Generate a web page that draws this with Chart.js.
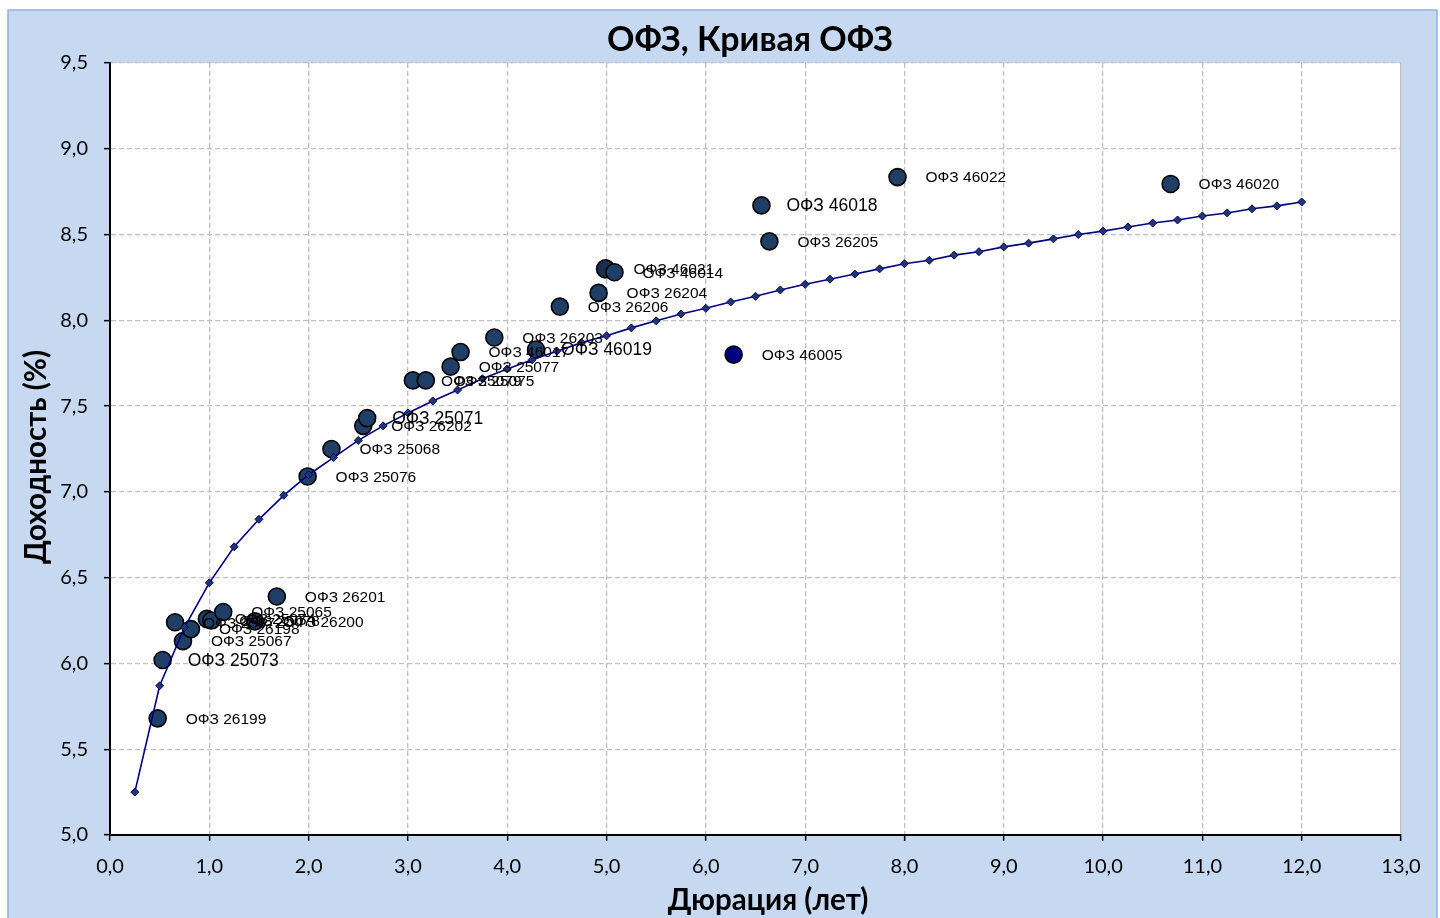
<!DOCTYPE html>
<html>
<head>
<meta charset="utf-8">
<script src="https://cdn.jsdelivr.net/npm/chart.js@4/dist/chart.umd.min.js"></script>
<style>
  body { margin: 0; background: #fff; overflow: hidden; }
  #ofzChart { position: absolute; left: 0; top: 0; width: 1440px; height: 918px; }
</style>
</head>
<body>
<canvas id="ofzChart" width="1440" height="918"></canvas>
<script>
// облигации: дюрация (лет), доходность (%)
var bondNames = ["ОФЗ 26199", "ОФЗ 25073", "ОФЗ 25072", "ОФЗ 25067", "ОФЗ 26198", "ОФЗ 25074",
    "ОФЗ 25078", "ОФЗ 25065", "ОФЗ 26200", "ОФЗ 26201", "ОФЗ 25076", "ОФЗ 25068", "ОФЗ 26202",
    "ОФЗ 25071", "ОФЗ 25079", "ОФЗ 25075", "ОФЗ 25077", "ОФЗ 46017", "ОФЗ 26203", "ОФЗ 46019",
    "ОФЗ 26206", "ОФЗ 26204", "ОФЗ 46021", "ОФЗ 46014", "ОФЗ 46005", "ОФЗ 46018", "ОФЗ 26205",
    "ОФЗ 46022", "ОФЗ 46020"];
var bondDuration = [0.48, 0.53, 0.655, 0.735, 0.815, 0.975, 1.02, 1.14, 1.46, 1.68, 1.99, 2.23, 2.55,
    2.59, 3.05, 3.18, 3.43, 3.53, 3.87, 4.29, 4.53, 4.92, 4.99, 5.08, 6.28, 6.56, 6.64, 7.93, 10.68];
var bondYield = [5.68, 6.02, 6.24, 6.13, 6.20, 6.26, 6.25, 6.30, 6.245, 6.39, 7.09, 7.25, 7.385,
    7.43, 7.65, 7.65, 7.73, 7.815, 7.90, 7.83, 8.08, 8.16, 8.30, 8.28, 7.80, 8.67, 8.46, 8.835, 8.795];
// подписи крупным шрифтом
var bigLabels = ["ОФЗ 25073", "ОФЗ 25071", "ОФЗ 46019", "ОФЗ 46018"];

// кривая ОФЗ
var curveDuration = [0.25, 0.5, 0.75, 1.0, 1.25, 1.5, 1.75, 2.0, 2.25, 2.5, 2.75, 3.0, 3.25, 3.5, 3.75,
    4.0, 4.25, 4.5, 4.75, 5.0, 5.25, 5.5, 5.75, 6.0, 6.25, 6.5, 6.75, 7.0, 7.25, 7.5, 7.75, 8.0, 8.25,
    8.5, 8.75, 9.0, 9.25, 9.5, 9.75, 10.0, 10.25, 10.5, 10.75, 11.0, 11.25, 11.5, 11.75, 12.0];
var curveYield = [5.25, 5.87, 6.21, 6.47, 6.68, 6.84, 6.98, 7.10, 7.20, 7.30, 7.385, 7.46, 7.53, 7.594,
    7.66, 7.717, 7.77, 7.82, 7.87, 7.91, 7.956, 7.997, 8.037, 8.07, 8.107, 8.14, 8.177, 8.21, 8.24,
    8.27, 8.30, 8.33, 8.35, 8.38, 8.40, 8.428, 8.45, 8.475, 8.50, 8.52, 8.544, 8.567, 8.585, 8.608,
    8.626, 8.65, 8.667, 8.69];

var xTicks = [0, 13, 1];
var yTicks = [5, 9.5, 0.5];

function fmt(v) { return Number(v).toFixed(1).replace('.', ','); }

var bondPoints = bondDuration.map(function (d, i) { return { x: d, y: bondYield[i] }; });
var curvePoints = curveDuration.map(function (d, i) { return { x: d, y: curveYield[i] }; });

var framePlugin = {
    id: 'frame',
    beforeDraw: function (chart) {
        var ctx = chart.ctx, a = chart.chartArea;
        ctx.save();
        ctx.fillStyle = '#ffffff';
        ctx.fillRect(0, 0, chart.width, chart.height);
        ctx.fillStyle = '#C6D9F0';
        ctx.fillRect(8, 10, 1429, 930);
        ctx.strokeStyle = '#8DB3E2';
        ctx.lineWidth = 1.5;
        ctx.strokeRect(8, 10, 1429, 930);
        ctx.fillStyle = '#ffffff';
        ctx.fillRect(a.left, a.top, a.right - a.left, a.bottom - a.top);
        ctx.restore();
    },
    afterDatasetsDraw: function (chart) {
        var ctx = chart.ctx;
        var meta = chart.getDatasetMeta(1);
        ctx.save();
        ctx.fillStyle = '#000000';
        ctx.textBaseline = 'middle';
        ctx.textAlign = 'left';
        meta.data.forEach(function (pt, i) {
            var name = bondNames[i];
            if (bigLabels.indexOf(name) >= 0) {
                ctx.font = '17.5px "Liberation Sans", Arial, sans-serif';
                ctx.fillText(name, pt.x + 25, pt.y + 1);
            } else {
                ctx.font = '15.5px "Liberation Sans", Arial, sans-serif';
                ctx.fillText(name, pt.x + 28, pt.y + 1);
            }
        });
        ctx.restore();
    },
    afterDraw: function (chart) {
        var ctx = chart.ctx;
        ctx.save();
        ctx.fillStyle = '#000000';
        ctx.textAlign = 'center';
        ctx.textBaseline = 'middle';
        ctx.font = 'bold 34px Lato, "Open Sans", sans-serif';
        ctx.fillText('ОФЗ, Кривая ОФЗ', 750, 40);
        ctx.font = 'bold 29.5px Lato, "Open Sans", sans-serif';
        ctx.fillText('Дюрация (лет)', 768, 900);
        ctx.translate(36, 457);
        ctx.rotate(-Math.PI / 2);
        ctx.fillText('Доходность (%)', 0, 0);
        ctx.restore();
    }
};

var tickFont = { family: 'Lato, "Open Sans", sans-serif', size: 20 };

var ctx = document.getElementById('ofzChart').getContext('2d');
var ofzChart = new Chart(ctx, {
    type: 'scatter',
    data: {
        datasets: [{
            type: 'line',
            label: 'Кривая ОФЗ',
            data: curvePoints,
            order: 0,
            showLine: true,
            tension: 0,
            fill: false,
            borderColor: '#000080',
            borderWidth: 1.6,
            pointStyle: 'rectRot',
            pointRadius: 4,
            pointBackgroundColor: '#1F3864',
            pointBorderColor: '#000080',
            pointBorderWidth: 1
        }, {
            label: 'ОФЗ',
            data: bondPoints,
            order: 1,
            pointStyle: 'circle',
            pointRadius: bondNames.map(function (n) { return n === 'ОФЗ 46021' ? 9 : 8.5; }),
            pointBackgroundColor: bondNames.map(function (n) {
                if (n === 'ОФЗ 46005') return '#000080';
                if (n === 'ОФЗ 46021') return '#17304F';
                return '#1F3F66';
            }),
            pointBorderColor: '#000000',
            pointBorderWidth: 1.6
        }]
    },
    options: {
        responsive: false,
        animation: false,
        devicePixelRatio: 1,
        layout: { padding: { left: 0, top: 63, right: 39, bottom: 0 } },
        plugins: {
            legend: { display: false },
            tooltip: { enabled: false },
            title: { display: false }
        },
        scales: {
            x: {
                type: 'linear',
                min: xTicks[0],
                max: xTicks[1],
                afterFit: function (scale) { scale.height = 83; },
                ticks: {
                    stepSize: xTicks[2],
                    padding: 14,
                    color: '#000000',
                    font: tickFont,
                    callback: function (v) { return fmt(v); }
                },
                grid: {
                    color: '#BFBFBF',
                    lineWidth: 1.3,
                    tickLength: 6,
                    tickColor: '#000000',
                    tickWidth: 1.5,
                    tickBorderDash: []
                },
                border: {
                    display: true,
                    color: '#000000',
                    width: 2,
                    dash: function (c) { return (c.tick && c.tick.value === xTicks[1]) ? [] : [5, 3]; }
                }
            },
            y: {
                type: 'linear',
                min: yTicks[0],
                max: yTicks[1],
                afterFit: function (scale) { scale.width = 110; },
                ticks: {
                    stepSize: yTicks[2],
                    padding: 16,
                    color: '#000000',
                    font: tickFont,
                    callback: function (v) { return fmt(v); }
                },
                grid: {
                    color: '#BFBFBF',
                    lineWidth: 1.3,
                    tickLength: 6,
                    tickColor: '#000000',
                    tickWidth: 1.5,
                    tickBorderDash: []
                },
                border: {
                    display: true,
                    color: '#000000',
                    width: 2,
                    dash: [5, 3]
                }
            }
        }
    },
    plugins: [framePlugin]
});
</script>
</body>
</html>
